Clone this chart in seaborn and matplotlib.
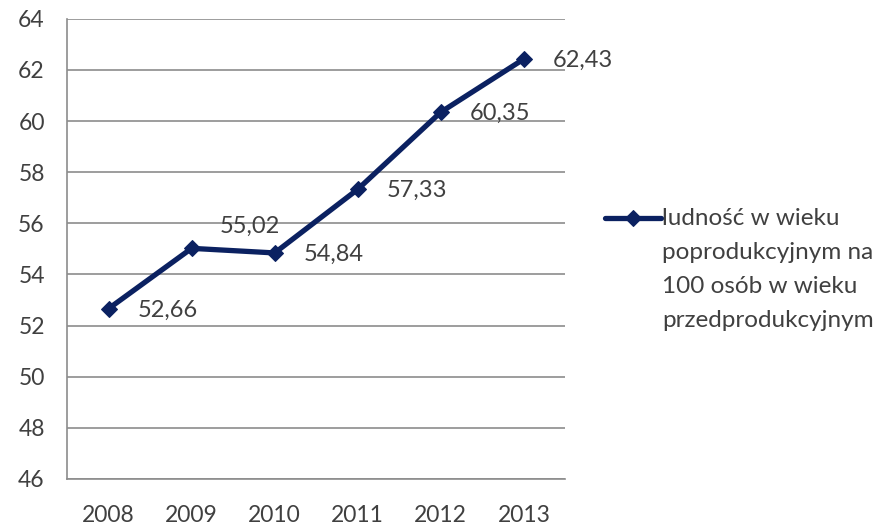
import matplotlib
matplotlib.use("Agg")
import matplotlib.pyplot as plt
import seaborn as sns
import pandas as pd

# dane
lata = ["2008", "2009", "2010", "2011", "2012", "2013"]
wartosci = [52.66, 55.02, 54.84, 57.33, 60.35, 62.43]
etykieta = "ludność w wieku\npoprodukcyjnym na\n100 osób w wieku\nprzedprodukcyjnym"
yticks = list(range(46, 65, 2))

kolor = "#0b2161"
tekst = "#404040"
siatka = "#8c8c8c"

sns.set_theme(style="white")
plt.rcParams["font.family"] = ["Lato", "DejaVu Sans"]

df = pd.DataFrame({"x": range(len(lata)), "y": wartosci})

fig = plt.figure(figsize=(8.82, 5.25), dpi=100)
ax = fig.add_axes([0.076, 0.088, 0.565, 0.876])

sns.lineplot(data=df, x="x", y="y", ax=ax, color=kolor, linewidth=3.8,
             marker="D", markersize=8.5, markeredgecolor=kolor, label=etykieta)

ax.set_xlim(-0.5, len(lata) - 0.5)
ax.set_ylim(46, 64)
ax.set_yticks(yticks)
ax.set_yticklabels([str(v) for v in yticks])
ax.set_xticks(range(len(lata)))
ax.set_xticklabels(lata)
ax.set_xticks([i - 0.5 for i in range(len(lata) + 1)], minor=True)
ax.tick_params(axis="x", which="major", length=0, pad=19, labelsize=16.5, labelcolor=tekst)
ax.tick_params(axis="x", which="minor", length=8, width=1.2, color=siatka, direction="out")
ax.tick_params(axis="y", length=8, width=1.2, color=siatka, pad=8, labelsize=16.5, labelcolor=tekst)
ax.set_xlabel("")
ax.set_ylabel("")

ax.yaxis.grid(True, color=siatka, linewidth=1.2)
ax.set_axisbelow(True)
for s in ["top", "right"]:
    ax.spines[s].set_visible(False)
for s in ["left", "bottom"]:
    ax.spines[s].set_color(siatka)
    ax.spines[s].set_linewidth(1.2)

# etykiety danych
for i, v in enumerate(wartosci):
    txt = f"{v:.2f}".replace(".", ",")
    if i == 1:
        ax.annotate(txt, (i, v), xytext=(20, 16), textcoords="offset points",
                    ha="left", va="center", fontsize=17, color=tekst)
    else:
        ax.annotate(txt, (i, v), xytext=(21, -1), textcoords="offset points",
                    ha="left", va="center", fontsize=17, color=tekst)

leg = ax.legend(loc="upper left", bbox_to_anchor=(1.06, 0.61), frameon=False,
                fontsize=17.5, handlelength=2.3, handleheight=1.1,
                handletextpad=0.05, borderaxespad=0)
for t in leg.get_texts():
    t.set_color(tekst)
    t.set_linespacing(1.76)
# znacznik legendy przy pierwszym wierszu
for kol in leg._legend_handle_box.get_children():
    for wiersz in kol.get_children():
        wiersz.align = "top"

fig.savefig("out.png", dpi=100)
